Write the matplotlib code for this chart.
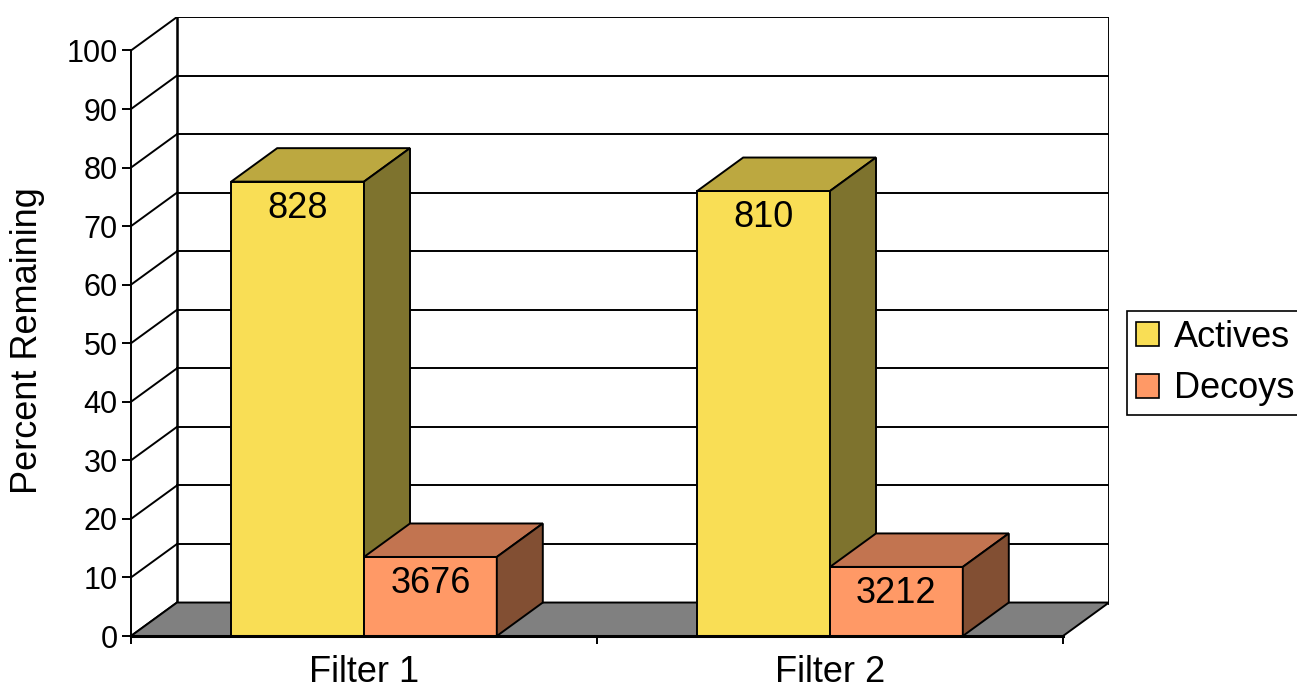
import matplotlib
matplotlib.use("Agg")
import matplotlib.pyplot as plt
from matplotlib.patches import Polygon, Patch

plt.rcParams['font.family'] = ['Liberation Sans', 'DejaVu Sans']

# Data
categories = ["Filter 1", "Filter 2"]
series_names = ["Actives", "Decoys"]
percent_remaining = {
    "Actives": [77.6, 76.0],
    "Decoys": [13.5, 11.8],
}
counts = {
    "Actives": ["828", "810"],
    "Decoys": ["3676", "3212"],
}
y_ticks = [0, 10, 20, 30, 40, 50, 60, 70, 80, 90, 100]

# Face colours: front, top, side
face_colors = {
    "Actives": ("#F9DE55", "#BCA840", "#7E732E"),
    "Decoys": ("#FF9966", "#C27450", "#824F33"),
}
floor_color = "#808080"

W, H = 1297, 694
fig = plt.figure(figsize=(W / 100, H / 100), dpi=100)

# depth offset of the 3D box in data units
DX = 46 / 466.0
DY = 33.5 / 5.86
n_cat = len(categories)
ymax = 100

left_px, right_px, bottom_px, top_px = 131, 1109, 636, 17
ax = fig.add_axes([left_px / W, (H - bottom_px) / H,
                   (right_px - left_px) / W, (bottom_px - top_px) / H])
ax.set_xlim(0, n_cat + DX)
ax.set_ylim(0, ymax + DY)
ax.set_facecolor("none")

lw = 1.4
# back wall and side wall gridlines
for v in y_ticks:
    ax.plot([DX, n_cat + DX], [v + DY, v + DY], color="black", lw=lw, zorder=1)
    ax.plot([0, DX], [v, v + DY], color="black", lw=lw, zorder=1)
ax.plot([DX, DX], [DY, ymax + DY], color="black", lw=lw * 1.3, zorder=1)
ax.plot([n_cat + DX, n_cat + DX], [DY, ymax + DY], color="black", lw=lw * 1.5, zorder=1)

# floor
ax.add_patch(Polygon([(0, 0), (DX, DY), (n_cat + DX, DY), (n_cat, 0)],
                     closed=True, facecolor=floor_color, edgecolor="black",
                     lw=lw, zorder=2))

bar_w = 0.285
gap = (1 - bar_w * len(series_names)) / 2


def draw_box(x0, v, colors, z):
    front, top, side = colors
    ax.add_patch(Polygon([(x0, 0), (x0 + bar_w, 0), (x0 + bar_w, v), (x0, v)],
                         facecolor=front, edgecolor="black", lw=lw, zorder=z))
    ax.add_patch(Polygon([(x0, v), (x0 + DX, v + DY), (x0 + bar_w + DX, v + DY),
                          (x0 + bar_w, v)],
                         facecolor=top, edgecolor="black", lw=lw, zorder=z))
    ax.add_patch(Polygon([(x0 + bar_w, 0), (x0 + bar_w + DX, DY),
                          (x0 + bar_w + DX, v + DY), (x0 + bar_w, v)],
                         facecolor=side, edgecolor="black", lw=lw, zorder=z))


z = 3
for c in range(n_cat):
    for s, name in enumerate(series_names):
        v = percent_remaining[name][c]
        x0 = c + gap + s * bar_w
        draw_box(x0, v, face_colors[name], z)
        ax.text(x0 + bar_w / 2, v - 1.6, counts[name][c], ha="center", va="top",
                fontsize=26, color="black", zorder=z + 1)
        z += 1

# axes, ticks and labels
for sp in ("top", "right"):
    ax.spines[sp].set_visible(False)
ax.spines["left"].set_bounds(0, ymax)
ax.spines["bottom"].set_bounds(0, n_cat)
ax.spines["left"].set_linewidth(lw)
ax.spines["bottom"].set_linewidth(2.2)
ax.spines["bottom"].set_zorder(20)
ax.set_yticks(y_ticks)
ax.set_yticklabels([str(t) for t in y_ticks], fontsize=22)
ax.tick_params(axis="y", direction="out", length=6.5, width=lw, pad=3)
ax.set_xticks(range(n_cat + 1))
ax.set_xticklabels([""] * (n_cat + 1))
ax.tick_params(axis="x", which="major", direction="out", length=6, width=lw)
ax.set_xticks([c + 0.5 for c in range(n_cat)], minor=True)
ax.set_xticklabels(categories, minor=True, fontsize=26)
ax.tick_params(axis="x", which="minor", length=0, pad=14)

fig.text(28 / W, 1 - 341 / H, "Percent Remaining", rotation=90,
         ha="center", va="center", fontsize=26)

handles = [Patch(facecolor=face_colors[n][0], edgecolor="black", lw=1.2)
           for n in series_names]
leg = fig.legend(handles, series_names, loc="center left",
                 bbox_to_anchor=(1127 / W, 1 - 363 / H), fontsize=26,
                 frameon=True, fancybox=False, framealpha=1, edgecolor="black",
                 handlelength=0.64, handleheight=0.64, handletextpad=0.42,
                 labelspacing=0.46, borderpad=0.25, borderaxespad=0)
leg.get_frame().set_linewidth(1.2)

fig.savefig("out.png", dpi=100)
